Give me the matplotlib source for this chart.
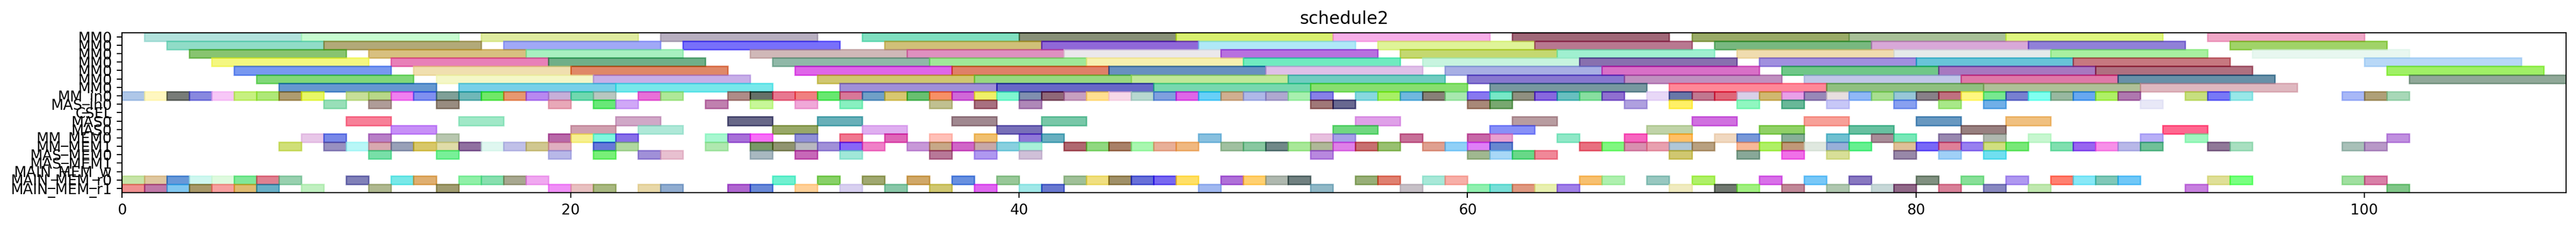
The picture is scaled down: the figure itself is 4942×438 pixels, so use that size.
import numpy as np
import matplotlib
matplotlib.use("Agg")
import matplotlib.pyplot as plt
from matplotlib.colors import to_rgb

# row labels, top to bottom
labels = ["MM0"] * 7 + ["MM_in0", "MAS_in0", "CSEL", "MAS0", "MAS0",
                        "MM_MEM0", "MM_MEM1", "MAS_MEM0", "MAS_MEM1",
                        "MAIN_MEM_w", "MAIN_MEM_r0", "MAIN_MEM_r1"]

# task durations per row
durations = [7] * 7 + [1, 1, 1, 2, 2, 1, 1, 1, 1, 1, 1, 1]

# start times per row
mm0_a = [1, 8, 16, 24, 33, 40, 47, 54, 62, 70, 77, 84, 93]
mm0_b = [2, 9, 17, 25, 34, 41, 48, 56, 63, 71, 78, 85, 94]
mm0_c = [3, 11, 18, 28, 35, 42, 49, 57, 64, 72, 79, 86, 95]
mm0_d = [4, 12, 19, 29, 36, 43, 50, 58, 65, 73, 80, 87, 100]
mm0_e = [5, 13, 20, 30, 37, 44, 51, 59, 66, 74, 81, 88, 101]
mm0_f = [6, 14, 21, 31, 38, 45, 52, 60, 67, 75, 82, 89, 102]
mm0_g = [7, 15, 22, 32, 39, 46, 53, 61, 69, 76, 83, 90]
mm_in0 = [0, 1, 2, 3, 4, 5, 6, 7, 8, 10, 11, 12, 13, 14, 15, 16, 17, 18, 19, 20, 21,
          23, 24, 27, 28, 29, 30, 31, 32, 33, 34, 35, 36, 37, 38, 39, 40, 41, 42, 43,
          44, 45, 46, 47, 48, 49, 50, 51, 52, 53, 55, 56, 57, 58, 59, 60, 61, 62, 63,
          64, 65, 66, 68, 69, 70, 71, 72, 73, 74, 75, 76, 77, 78, 79, 80, 81, 82, 83,
          84, 85, 86, 87, 88, 89, 92, 93, 94, 99, 100, 101]
mas_in0 = [9, 11, 14, 19, 21, 22, 26, 28, 30, 32, 36, 38, 40, 53, 54, 60, 61, 67, 69,
           72, 74, 76, 79, 81, 83, 90]
csel = []
mas0_a = [10, 15, 22, 27, 31, 37, 41, 55, 62, 70, 75, 80, 84]
mas0_b = [12, 20, 23, 29, 33, 39, 54, 61, 68, 73, 77, 82, 91]
mm_mem0 = [8, 9, 11, 14, 19, 20, 21, 22, 26, 27, 28, 30, 32, 34, 36, 38, 40, 41, 48,
           53, 54, 57, 60, 61, 64, 67, 69, 71, 72, 74, 76, 78, 79, 81, 83, 85, 90, 92,
           101]
mm_mem1 = [7, 9, 10, 11, 12, 13, 14, 15, 16, 17, 18, 19, 21, 22, 26, 28, 29, 30, 31,
           32, 33, 35, 36, 37, 38, 39, 40, 42, 43, 44, 45, 46, 47, 49, 50, 51, 52, 53,
           54, 55, 56, 58, 59, 60, 61, 65, 66, 67, 68, 69, 70, 72, 73, 74, 75, 76, 77,
           79, 80, 81, 82, 83, 84, 86, 87, 88, 89, 90, 93, 94, 99, 100]
mas_mem0 = [11, 14, 19, 21, 23, 24, 28, 30, 32, 36, 38, 40, 53, 60, 61, 62, 63, 69,
            72, 74, 76, 79, 81, 83]
mas_mem1 = []
main_mem_w = []
main_mem_r0 = [0, 1, 2, 3, 4, 5, 6, 7, 10, 12, 13, 15, 16, 17, 18, 29, 31, 33, 35, 37,
               39, 42, 43, 44, 45, 46, 47, 49, 50, 51, 52, 55, 56, 58, 59, 65, 66, 68,
               70, 73, 75, 77, 80, 82, 84, 86, 87, 88, 89, 93, 94, 99, 100]
main_mem_r1 = [0, 1, 2, 3, 4, 5, 6, 8, 11, 14, 19, 20, 21, 23, 24, 27, 28, 30, 32, 34,
               36, 38, 40, 41, 48, 53, 57, 60, 61, 62, 63, 64, 69, 71, 72, 74, 76, 78,
               79, 81, 83, 85, 92, 101]

starts = [mm0_a, mm0_b, mm0_c, mm0_d, mm0_e, mm0_f, mm0_g, mm_in0, mas_in0, csel,
          mas0_a, mas0_b, mm_mem0, mm_mem1, mas_mem0, mas_mem1, main_mem_w,
          main_mem_r0, main_mem_r1]

# colours as they appear on white (blended)
col_mm0_a = ['#b2e2dc', '#c8fcd0', '#e0eba0', '#b8b0c0', '#80e0c0', '#889078', '#d8f070',
             '#f8b0e8', '#a06878', '#9aab68', '#a8c098', '#e0f880', '#f0a8c8']
col_mm0_b = ['#90dcc8', '#b2aa78', '#a0a8f8', '#7870fa', '#d0c078', '#9068d8', '#b0e8f8',
             '#e0f498', '#b87890', '#78b880', '#d8a8d8', '#9080d8', '#a0d468']
col_mm0_c = ['#88c470', '#d8c080', '#a8f0c0', '#d0b8b8', '#e090c0', '#ece8ec', '#b870e0',
             '#c4d870', '#a0f0d0', '#f0dcb0', '#e4eaea', '#a8f0a0', '#e8f8f0']
col_mm0_d = ['#f4f880', '#e880b8', '#70b088', '#90b8a8', '#a0e898', '#f8f0b0', '#70ecc0',
             '#c8f4e0', '#8870b0', '#a090e0', '#68c4d8', '#c87880', '#b8d8f8']
col_mm0_e = ['#7898f0', '#f0e0b0', '#e08868', '#e060e8', '#e08068', '#6890c0', '#e0c0e8',
             '#a8b0e4', '#d870c8', '#70c888', '#a878c0', '#b07080', '#a0f060']
col_mm0_f = ['#80d878', '#f4f8c8', '#c8b0e8', '#d0c870', '#98d880', '#c0e898', '#70ccc0',
             '#8878d0', '#c090c0', '#c0c8e8', '#e078a8', '#6890a8', '#90a898']
col_mm0_g = ['#6498d0', '#78d0e8', '#78e8ec', '#a090d8', '#6868c8', '#78d8b0', '#88e070',
             '#7898a0', '#ff8898', '#90c080', '#b0c098', '#e0b8c0']
col_mm_in0 = ['#b0c8e8', '#fff8c0', '#787c78', '#8888e0', '#f8c8f8', '#c8f080', '#b0e878',
              '#b09c70', '#e8f858', '#c8e098', '#b8d888', '#f080f0', '#8090f0', '#80a098',
              '#70b8b8', '#70e868', '#e89870', '#b888f0', '#c8b0d8', '#70d8b0', '#b8c8c0',
              '#e870d8', '#b0e898', '#b08c88', '#607068', '#e87890', '#f08080', '#68e870',
              '#d87898', '#70a0c8', '#d8c870', '#68c070', '#f89060', '#d068d8', '#f0f068',
              '#80f8d0', '#8090b0', '#906878', '#c8a0c0', '#ffe090', '#f8d8e8', '#b8d8d0',
              '#80a0e0', '#e060e8', '#68d0f8', '#d0b090', '#b0b8e8', '#b0a8d0', '#a8f0b0',
              '#8880e8', '#88d8e0', '#a8f060', '#70b8e0', '#888078', '#a8e8b0', '#8878f0',
              '#78e8c8', '#909080', '#8868e0', '#68c0c0', '#88e0a0', '#9070d0', '#e8d8f8',
              '#6878a8', '#c07890', '#e06078', '#d8d0e8', '#d0b870', '#e8a0e8', '#9888b8',
              '#e8e0e0', '#90b8f8', '#a8e090', '#98c8d8', '#888088', '#c07080', '#fff880',
              '#78e890', '#7880d0', '#80fff0', '#98b8a0', '#68a8f0', '#b0f060', '#b078b0',
              '#c8e080', '#7878f8', '#98e8e8', '#a8b8f8', '#b0a078', '#a8d8b8']
col_mas_in0 = ['#98e0b8', '#b09c98', '#988c80', '#e8a8b8', '#68e878', '#d0a8f8', '#c080b0',
               '#c8f898', '#f0a8d8', '#88f0c0', '#c0c090', '#a87080', '#b088b8', '#a07878',
               '#686890', '#a88878', '#78a870', '#b0a0e0', '#fff050', '#90f8c0', '#68b898',
               '#c8c8f8', '#88a0f0', '#a8e888', '#70b0e8', '#e8e8f8']
col_csel = []
col_mas0_a = ['#f88098', '#a0e8c8', '#d0a8c8', '#686888', '#68b0b8', '#a08890', '#78c8a8',
              '#e0a0e8', '#b89ca0', '#d070e0', '#f8a098', '#6898c0', '#f0c080']
col_mas0_b = ['#c890f8', '#d0a0b0', '#b0e8d8', '#98a868', '#e0b0f0', '#7870b8', '#70d880',
              '#8890f8', '#c0d4a8', '#90d060', '#68c0a0', '#988080', '#ff6890']
col_mm_mem0 = ['#e8c8e8', '#7888e8', '#b880c8', '#b8c8b0', '#b868a8', '#f8f090', '#80f8e0',
               '#8870e8', '#a8f8d0', '#a870d8', '#f870f8', '#9090d8', '#f07890', '#e060b8',
               '#ffc0b8', '#f0c070', '#9078d8', '#68b0c0', '#88c0e0', '#e8c0e0', '#a8a0e8',
               '#c87098', '#c868a8', '#e8a0d0', '#90e8c8', '#f860c0', '#ffc060', '#f0d8c0',
               '#7898d8', '#88b098', '#70c0d0', '#a88c98', '#78e8b8', '#9888b0', '#b0b8b0',
               '#c8f8d0', '#b8b0f8', '#a0f8c0', '#c090e0']
col_mm_mem1 = ['#d0e078', '#9890c0', '#b8f8f8', '#d8a8b0', '#98a0b8', '#d8c868', '#e0dca8',
               '#9070a0', '#e0f8f0', '#c0c0e8', '#d0c890', '#e0b0c0', '#6878d8', '#b0d8a0',
               '#b0e8b0', '#789868', '#909470', '#b8b8c0', '#a090d8', '#8860f8', '#f080c8',
               '#c898d8', '#c8a888', '#d060c8', '#c8a8a8', '#88d0e0', '#a8f0d8', '#b06870',
               '#90d880', '#a88068', '#a8f8b0', '#e8b098', '#f0b880', '#a0c0a0', '#88c8a0',
               '#708888', '#a8e898', '#b0b898', '#e080e8', '#c87070', '#98c070', '#e0a090',
               '#90d0f8', '#e080f8', '#6888d0', '#e87080', '#80f880', '#d890b0', '#e8a0b0',
               '#b0c8d8', '#b8a080', '#f8b898', '#b0f050', '#c09878', '#e0e8e0', '#98b0d8',
               '#60f090', '#e0c098', '#7868f8', '#e08098', '#9880f0', '#d0e080', '#78e878',
               '#80e0b0', '#9860f0', '#f890e8', '#b8b8e8', '#70c098', '#907898', '#a8e0c0',
               '#a8c0b8', '#b898c8']
col_mas_mem0 = ['#78e0a8', '#78f098', '#b8b8e8', '#78f078', '#a090d8', '#e8c0d0', '#a8b8c0',
                '#c868b8', '#a0e8d8', '#b87898', '#b098f0', '#d0c0d8', '#b888e0', '#a0b890',
                '#a8d8f8', '#68d888', '#f08898', '#d0c870', '#88a898', '#f070e8', '#d8e098',
                '#9888a8', '#a0d0f8', '#70e0f0']
col_mas_mem1 = []
col_main_mem_w = []
col_main_mem_r0 = ['#c8e4a8', '#e0c8a0', '#6898d8', '#d0f8f0', '#e0fae0', '#80e898', '#e08090',
                   '#98d0b0', '#8080b8', '#78e8e8', '#e0b070', '#90f0a8', '#88e0b0', '#a8a890',
                   '#f0a8f0', '#70f0d0', '#88d068', '#a0a870', '#d0a868', '#6890e0', '#98c898',
                   '#a0c098', '#f0e080', '#a09068', '#6870d8', '#7868f0', '#ffe060', '#b070d8',
                   '#ffd070', '#b0b8b0', '#708080', '#98b078', '#e08070', '#a8e8d8', '#f8b0a8',
                   '#f8c070', '#b0f0b0', '#98c8c0', '#b0f068', '#d870e8', '#78c8f8', '#8878c0',
                   '#809080', '#88e098', '#b098f0', '#ff8070', '#88e8f8', '#80c8b8', '#70c8f8',
                   '#e0e098', '#78ff80', '#a0e0a0', '#d880a8']
col_main_mem_r1 = ['#f09090', '#c078a8', '#80c8f0', '#a89868', '#f8a0a0', '#e0bc70', '#68b0c8',
                   '#c0f0c0', '#b0b890', '#a09c70', '#f090f8', '#e8c0c0', '#a8b880', '#e8d8a8',
                   '#90acd0', '#b060d0', '#6888d8', '#ffd098', '#d8d0f0', '#88c8a8', '#d0c870',
                   '#e060f0', '#a0e8e8', '#6878d0', '#a0b8f0', '#90b8c8', '#c8c0c8', '#90f0b0',
                   '#78e0d8', '#e09880', '#e8f0b0', '#a080e8', '#f0ecc0', '#707870', '#a0f080',
                   '#c08898', '#b0c8b0', '#c8d8d8', '#906888', '#d88098', '#8888c0', '#c0e8b0',
                   '#c880e0', '#80c888']

colors = [col_mm0_a, col_mm0_b, col_mm0_c, col_mm0_d, col_mm0_e, col_mm0_f, col_mm0_g,
          col_mm_in0, col_mas_in0, col_csel, col_mas0_a, col_mas0_b, col_mm_mem0,
          col_mm_mem1, col_mas_mem0, col_mas_mem1, col_main_mem_w, col_main_mem_r0,
          col_main_mem_r1]

ALPHA = 0.6


def base_color(hexcol):
    # undo the blend with white so the translucent bar looks right
    f = np.array(to_rgb(hexcol))
    return tuple(np.clip((f - (1 - ALPHA)) / ALPHA, 0, 1))


fig, ax = plt.subplots(figsize=(24.71, 2.19), dpi=200)
fig.subplots_adjust(left=0.0474, right=0.9962, top=0.857, bottom=0.155)

for i, (s, c) in enumerate(zip(starts, colors)):
    if not s:
        continue
    cc = [base_color(h) for h in c]
    ax.barh([i] * len(s), [durations[i]] * len(s), left=s, height=1,
            color=cc, edgecolor=cc, alpha=ALPHA, linewidth=1)

ax.set_yticks(range(len(labels)))
ax.set_yticklabels(labels)
ax.set_ylim(len(labels) - 0.5, -0.5)
ax.set_xlim(0, 109)
ax.set_title("schedule2")

fig.savefig("out.png", dpi=200)
